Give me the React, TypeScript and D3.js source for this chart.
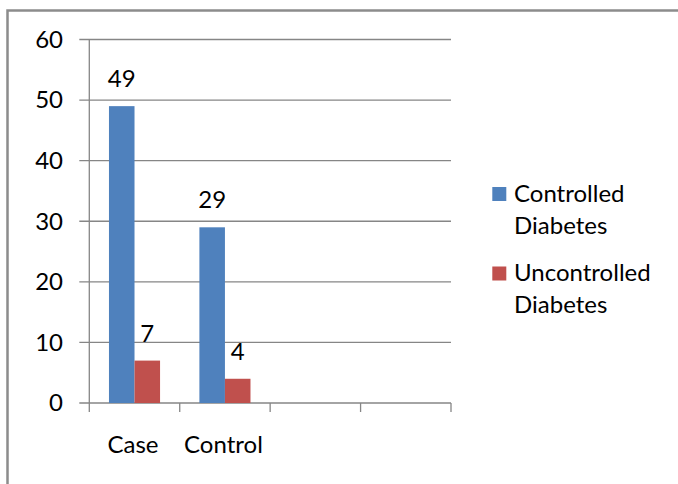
import * as d3 from 'd3';
import React from 'react';

const categories = ['Case', 'Control', '', ''];
const seriesNames = ['Controlled Diabetes', 'Uncontrolled Diabetes'];
const controlled = [49, 29];
const uncontrolled = [7, 4];
const yTicks = [0, 10, 20, 30, 40, 50, 60];

const colors = ['#4F81BD', '#C0504D'];
const FONT = 'Lato, "Open Sans", sans-serif';
const FS = 24;

const App = () => {
    const width = 678;
    const height = 484;
    const margin = { top: 39.5, bottom: 81, left: 89.3, right: 227 };

    const x0 = d3
        .scaleBand<number>()
        .domain(categories.map((_, i) => i))
        .range([margin.left, width - margin.right])
        .padding(0);

    const x1 = d3
        .scaleBand<string>()
        .domain(seriesNames)
        .range([0, x0.bandwidth()])
        .paddingInner(0)
        .paddingOuter(0.77);

    const y = d3
        .scaleLinear()
        .domain([0, 60])
        .range([height - margin.bottom, margin.top]);

    const values = [controlled, uncontrolled];
    const xRight = width - margin.right;

    return (
        <svg width={width} height={height} style={{ position: 'absolute', left: 0, top: 0 }} fontFamily={FONT}>
            <rect x={0} y={0} width={width} height={height} fill="#fff" />
            {/* outer chart frame */}
            <rect x={7.5} y={10.5} width={width + 10} height={height + 10} fill="none" stroke="#8c8c8c" strokeWidth={2.5} />

            {/* gridlines + y labels */}
            {yTicks.map((t) => (
                <g key={t}>
                    <line x1={margin.left - 10} x2={xRight} y1={y(t)} y2={y(t)} stroke="#868686" strokeWidth={1.3} />
                    <text x={63} y={y(t)} dy="0.35em" textAnchor="end" fontSize={FS} fill="#000">
                        {t}
                    </text>
                </g>
            ))}

            {/* y axis line */}
            <line x1={margin.left} x2={margin.left} y1={y(60)} y2={y(0)} stroke="#868686" strokeWidth={1.3} />

            {/* x axis ticks */}
            {categories.map((_, i) => (
                <line
                    key={'t' + i}
                    x1={x0(i)! }
                    x2={x0(i)!}
                    y1={y(0)}
                    y2={y(0) + 9}
                    stroke="#868686"
                    strokeWidth={1.3}
                />
            ))}
            <line x1={xRight} x2={xRight} y1={y(0)} y2={y(0) + 9} stroke="#868686" strokeWidth={1.3} />

            {/* bars */}
            {values.map((vals, s) =>
                vals.map((v, i) => (
                    <g key={s + '-' + i}>
                        <rect
                            x={x0(i)! + x1(seriesNames[s])!}
                            y={y(v)}
                            width={x1.bandwidth()}
                            height={y(0) - y(v)}
                            fill={colors[s]}
                        />
                        <text
                            x={x0(i)! + x1(seriesNames[s])! + x1.bandwidth() / 2}
                            y={y(v) - 19}
                            textAnchor="middle"
                            fontSize={FS}
                            fill="#000"
                        >
                            {v}
                        </text>
                    </g>
                )),
            )}

            {/* x labels */}
            {categories.map((c, i) => (
                <text key={'c' + i} x={x0(i)! + x0.bandwidth() / 2 - 1.5} y={453} textAnchor="middle" fontSize={FS} fill="#000">
                    {c}
                </text>
            ))}

            {/* legend */}
            {seriesNames.map((name, s) => {
                const words = name.split(' ');
                const top = 187 + s * 79.5;
                return (
                    <g key={name}>
                        <rect x={492.3} y={top} width={14} height={14} fill={colors[s]} />
                        {words.map((w, k) => (
                            <text key={w} x={514} y={top + 14.5 + k * 32} fontSize={FS} fill="#000">
                                {w}
                            </text>
                        ))}
                    </g>
                );
            })}
        </svg>
    );
};

export default App;
